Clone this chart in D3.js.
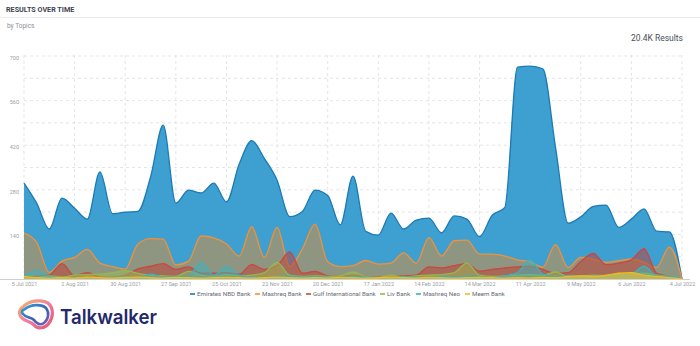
<!DOCTYPE html>
<html>
<head>
<meta charset="utf-8">
<script src="https://cdn.jsdelivr.net/npm/d3@7/dist/d3.min.js"></script>
<style>
  html, body { margin: 0; padding: 0; background: #fff; }
  svg { display: block; font-family: Roboto, "Open Sans", sans-serif; }
</style>
</head>
<body>
<svg id="chart" width="700" height="346"></svg>
<script>
// ---- Data (weekly points, starting Monday 5 Jul 2021) ----
const seriesNames = ["Emirates NBD Bank", "Mashreq Bank", "Gulf International Bank", "Liv Bank", "Mashreq Neo", "Meem Bank"];
const seriesColors = ["#3ea0d0", "#de8c34", "#c23a32", "#9bbb59", "#45b3b8", "#f2c12e"];
const seriesStroke = ["#1c7ab6", "#f0913a", "#c9473f", "#93b850", "#3fb0be", "#f0bc1c"];

const emiratesNBD = [301,238,157,254,222,188,336,205,210,212,320,483,238,279,270,301,242,360,434,378,310,196,212,279,262,170,323,150,138,207,157,185,191,145,198,188,133,200,225,665,668,660,415,175,195,228,232,162,188,220,150,148,0];
const mashreqBank = [144,115,21,56,68,93,50,39,31,110,127,125,44,56,135,129,110,72,164,68,162,39,95,172,54,39,42,58,47,50,82,50,130,72,120,122,78,78,72,60,54,37,108,36,68,62,52,58,62,52,36,100,0];
const gulfIntl = [5,8,12,48,10,20,6,5,12,32,40,48,30,38,18,18,20,15,45,30,42,85,18,24,10,8,13,8,6,8,10,12,38,35,42,48,25,30,35,38,40,30,18,20,55,80,45,50,60,95,18,8,0];
const livBank = [3,5,10,6,12,14,15,20,26,18,12,10,8,24,12,8,14,10,12,20,52,12,8,10,8,10,22,8,5,12,6,10,12,14,20,50,12,8,10,12,14,12,22,8,10,12,10,14,16,18,12,8,0];
const mashreqNeo = [10,25,8,4,3,5,3,4,8,5,15,6,8,10,52,12,38,12,6,5,8,10,6,8,6,5,8,6,5,4,8,6,5,8,6,10,8,5,10,20,60,15,8,10,6,8,10,12,15,40,10,8,0];
const meemBank = [8,4,3,4,3,6,4,3,5,6,4,3,5,4,3,4,5,4,3,4,6,4,3,4,3,5,4,3,4,6,4,3,5,4,3,4,5,4,3,4,3,5,4,8,10,8,12,18,20,12,8,4,0];
const seriesValues = [emiratesNBD, mashreqBank, gulfIntl, livBank, mashreqNeo, meemBank];

const startDate = new Date(Date.UTC(2021, 6, 5));
const endDate = new Date(Date.UTC(2022, 6, 4));
const weeks = d3.utcDay.range(startDate, d3.utcDay.offset(endDate, 1), 7);

const tickLabels = ["5 Jul 2021","2 Aug 2021","30 Aug 2021","27 Sep 2021","25 Oct 2021","22 Nov 2021","20 Dec 2021","17 Jan 2022","14 Feb 2022","14 Mar 2022","11 Apr 2022","9 May 2022","6 Jun 2022","4 Jul 2022"];
const yTicks = [140, 280, 420, 560, 700];
const yGrid = [70, 140, 210, 280, 350, 420, 490, 560, 630, 700];

const title = "RESULTS OVER TIME";
const subtitle = "by Topics";
const total = "20.4K Results";

// ---- Layout ----
const svg = d3.select("#chart");
const X0 = 24, X1 = 682, Y0 = 279, Y1 = 56;

const x = d3.scaleUtc().domain([startDate, endDate]).range([X0, X1]);
const y = d3.scaleLinear().domain([0, 700]).range([Y0, Y1]);

// Header
svg.append("text").attr("x", 6).attr("y", 12).attr("font-size", 7.2).attr("font-weight", 700)
  .attr("fill", "#3d4350").text(title);
svg.append("line").attr("x1", 0).attr("x2", 700).attr("y1", 17.5).attr("y2", 17.5)
  .attr("stroke", "#ececec").attr("stroke-width", 1);
svg.append("text").attr("x", 7).attr("y", 28).attr("font-size", 6.5).attr("fill", "#8a8f98").text(subtitle);
svg.append("text").attr("x", 683).attr("y", 41).attr("text-anchor", "end").attr("font-size", 8.5)
  .attr("fill", "#4a4f58").text(total);

// Gridlines
const grid = svg.append("g");
grid.selectAll("line.h").data(yGrid).join("line")
  .attr("x1", X0).attr("x2", X1).attr("y1", d => y(d)).attr("y2", d => y(d))
  .attr("stroke", "#dedede").attr("stroke-dasharray", "3,3").attr("stroke-width", 0.8);
const tickDates = tickLabels.map((t, i) => d3.utcDay.offset(startDate, 28 * i));
grid.selectAll("line.v").data(tickDates).join("line")
  .attr("x1", d => x(d)).attr("x2", d => x(d)).attr("y1", Y1 - 1).attr("y2", Y0)
  .attr("stroke", "#dedede").attr("stroke-dasharray", "3,3").attr("stroke-width", 0.8);

// Y axis labels
const yAxis = d3.axisLeft(y).tickValues(yTicks).tickSize(0).tickPadding(0);
const yg = svg.append("g").attr("transform", `translate(19,0)`).call(yAxis);
yg.select(".domain").remove();
yg.selectAll("text").attr("font-size", 5.5).attr("fill", "#9a9ea5").attr("font-family", "Roboto, sans-serif")
  .attr("dy", "0.6em");

// Areas
const area = d3.area().x((d, i) => x(weeks[i])).y0(Y0).y1(d => y(d)).curve(d3.curveMonotoneX);
const line = d3.line().x((d, i) => x(weeks[i])).y(d => y(d)).curve(d3.curveMonotoneX);
const fillOpacity = [1, 0.5, 0.5, 0.5, 0.55, 0.6];
const plot = svg.append("g");
seriesValues.forEach((vals, s) => {
  plot.append("path").datum(vals).attr("d", area)
    .attr("fill", seriesColors[s]).attr("fill-opacity", fillOpacity[s]);
  plot.append("path").datum(vals).attr("d", line)
    .attr("fill", "none").attr("stroke", seriesStroke[s]).attr("stroke-width", 1.3);
});

// X axis
const xAxis = d3.axisBottom(x).tickValues(tickDates).tickFormat((d, i) => tickLabels[i]).tickSize(0).tickPadding(3);
const xg = svg.append("g").attr("transform", `translate(0,${Y0})`).call(xAxis);
xg.select(".domain").attr("stroke", "#cfcfcf").attr("d", `M${X0 - 24},0.5H${X1 + 8}`);
xg.selectAll("text").attr("font-size", 5.5).attr("fill", "#9a9ea5").attr("font-family", "Roboto, sans-serif");

// Legend
const legendX = [190, 255, 306, 380, 416, 465];
const lg = svg.append("g").attr("transform", "translate(0,294)");
seriesNames.forEach((n, i) => {
  lg.append("rect").attr("x", legendX[i]).attr("y", -0.8).attr("width", 5).attr("height", 1.6)
    .attr("fill", seriesStroke[i]);
  lg.append("text").attr("x", legendX[i] + 7).attr("y", 0).attr("dy", "0.33em")
    .attr("font-size", 6.2).attr("fill", "#666b73").text(n);
});

// Logo
const logo = svg.append("g");
const defs = svg.append("defs");
const g1 = defs.append("linearGradient").attr("id", "lg1").attr("x1", "0").attr("y1", "0").attr("x2", "1").attr("y2", "1");
g1.append("stop").attr("offset", "0").attr("stop-color", "#f7b267");
g1.append("stop").attr("offset", "0.5").attr("stop-color", "#ee7ea0");
g1.append("stop").attr("offset", "1").attr("stop-color", "#e25577");
const g2 = defs.append("linearGradient").attr("id", "lg2").attr("x1", "0").attr("y1", "0").attr("x2", "1").attr("y2", "1");
g2.append("stop").attr("offset", "0").attr("stop-color", "#2f9ed6");
g2.append("stop").attr("offset", "0.6").attr("stop-color", "#3b5fb0");
g2.append("stop").attr("offset", "1").attr("stop-color", "#7a5fb3");
logo.append("path")
  .attr("d", "M24,306 C30,300 44,299 49,304 C54,309 53,318 49,323 C45,329 37,329 34,325 C31,321 26,322 22,318 C18,314 19,309 24,306 Z")
  .attr("fill", "none").attr("stroke", "url(#lg1)").attr("stroke-width", 3.2);
logo.append("path")
  .attr("d", "M25,309 C31,304 42,304 46,308 C50,313 48,320 44,323 C40,326 36,323 34,320 C31,317 26,318 23,314 C21,312 22,310 25,309 Z")
  .attr("fill", "none").attr("stroke", "url(#lg2)").attr("stroke-width", 2.6);
logo.append("text").attr("x", 60).attr("y", 324).attr("font-size", 20).attr("font-weight", 600)
  .attr("font-family", "Inter, Roboto, sans-serif").attr("fill", "#23296b")
  .attr("textLength", 97).attr("lengthAdjust", "spacingAndGlyphs").text("Talkwalker");
</script>
</body>
</html>
